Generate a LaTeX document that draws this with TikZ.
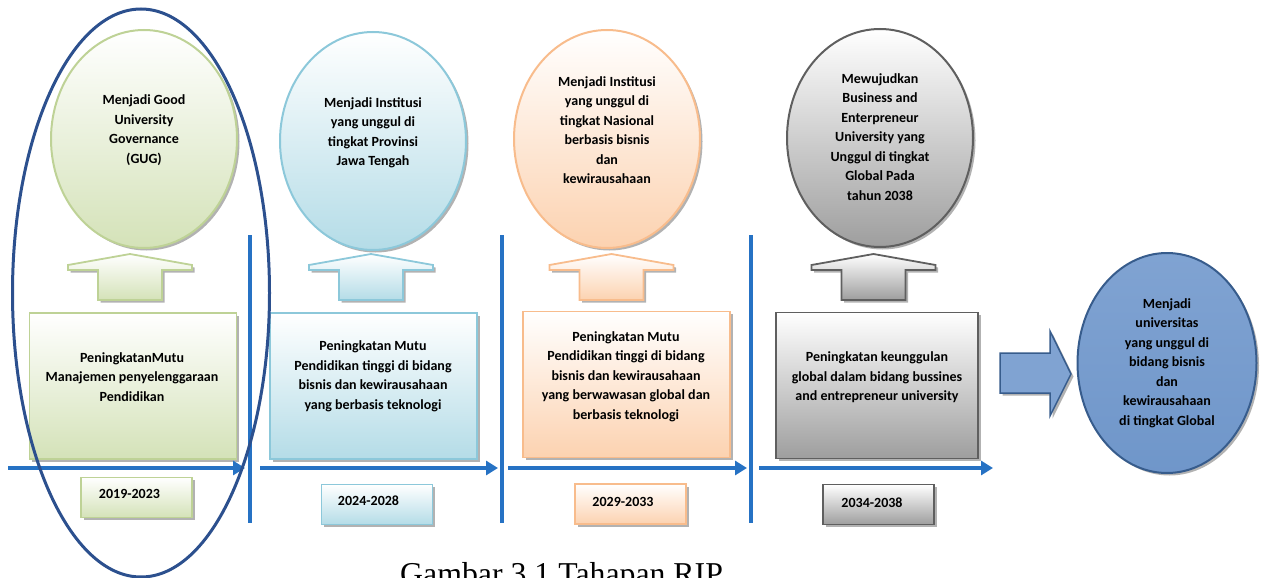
\documentclass[tikz,border=0pt]{standalone}
\usepackage{fontspec}
\setmainfont{Carlito}
\newfontfamily\capfont{Liberation Serif}
\usetikzlibrary{arrows.meta,shadows,shapes.geometric}

\definecolor{grD}{RGB}{190,210,150}
\definecolor{grF}{RGB}{212,226,184}
\definecolor{blD}{RGB}{140,200,218}
\definecolor{blF}{RGB}{180,220,231}
\definecolor{orD}{RGB}{248,188,140}
\definecolor{orF}{RGB}{252,210,176}
\definecolor{gyD}{RGB}{95,95,95}
\definecolor{gyF}{RGB}{158,158,158}
\definecolor{tlblue}{RGB}{38,114,196}
\definecolor{navy}{RGB}{44,80,142}
\definecolor{fnD}{RGB}{55,92,140}
\definecolor{fnL}{RGB}{128,163,210}
\definecolor{fnM}{RGB}{72,120,182}

\tikzset{
  soft/.style={drop shadow={shadow xshift=2.5pt,shadow yshift=-2.5pt,opacity=.3,fill=black}},
  txt/.style={font=\bfseries\fontsize{14}{19.5}\selectfont,align=center,inner sep=0pt},
  goal/.style={ellipse,draw=#1D,line width=2pt,top color=white,bottom color=#1F,
    minimum width=186pt,minimum height=218pt,soft},
  stage/.style={rectangle,draw=#1D,line width=1.8pt,top color=white,bottom color=#1F,
    minimum width=207pt,minimum height=146pt,soft},
  yearbox/.style={rectangle,draw=#1D,line width=1.8pt,top color=white,bottom color=#1F,
    minimum width=111pt,minimum height=40pt,soft},
  uparrow/.style={draw=#1D,line width=1.8pt,top color=white,bottom color=#1F,line join=miter,soft},
  timeline/.style={line width=4.5pt,draw=tlblue,-{Triangle[length=12pt,width=14pt]}},
  sep/.style={line width=3.5pt,draw=tlblue}
}

\begin{document}
\begin{tikzpicture}[x=1pt,y=-1pt]
\useasboundingbox (0,0) rectangle (1272,578);

  \node[goal=gr] (g1) at (144,139) {};
  \node[goal=bl] (g2) at (373,141) {};
  \node[goal=or] (g3) at (607,139) {};
  \node[goal=gy] (g4) at (880,138) {};

  \node[txt] (g1t) at (144,130) {Menjadi Good\\University\\Governance\\(GUG)};
  \node[txt] (g2t) at (373,133) {Menjadi Institusi\\yang unggul di\\tingkat Provinsi\\Jawa Tengah};
  \node[txt] (g3t) at (607,130) {Menjadi Institusi\\yang unggul di\\tingkat Nasional\\berbasis bisnis\\dan\\kewirausahaan};
  \node[txt] (g4t) at (880,137) {Mewujudkan\\Business and\\Enterpreneur\\University yang\\Unggul di tingkat\\Global Pada\\tahun 2038};

  \foreach \cx/\clr in {130/gr, 371/bl, 611.5/or, 873.5/gy}
    \draw[uparrow=\clr] ({\cx-32},300) -- ({\cx-32},270) -- ({\cx-62},270) -- ({\cx-62},265)
      -- (\cx,254) -- ({\cx+62},265) -- ({\cx+62},270) -- ({\cx+32},270) -- ({\cx+32},300) -- cycle;

  \node[stage=gr] (b1) at (133,386) {};
  \node[stage=bl] (b2) at (373.5,386) {};
  \node[stage=or] (b3) at (626.5,384.5) {};
  \node[stage=gy,minimum width=202pt] (b4) at (877,385.5) {};

  \node[txt] (b1t) at (132,377) {PeningkatanMutu\\Manajemen penyelenggaraan\\Pendidikan};
  \node[txt] (b2t) at (373,376.5) {Peningkatan Mutu\\Pendidikan tinggi di bidang\\bisnis dan kewirausahaan\\yang berbasis teknologi};
  \node[txt] (b3t) at (626,376.5) {Peningkatan Mutu\\Pendidikan tinggi di bidang\\bisnis dan kewirausahaan\\yang berwawasan global dan\\berbasis teknologi};
  \node[txt] (b4t) at (877,377.5) {Peningkatan keunggulan\\global dalam bidang bussines\\and entrepreneur university};

  \coordinate (s1) at (8,468);   \coordinate (e1) at (245,468);
  \coordinate (s2) at (260,468); \coordinate (e2) at (498,468);
  \coordinate (s3) at (508,468); \coordinate (e3) at (747,468);
  \coordinate (s4) at (759,468); \coordinate (e4) at (993,468);

  \foreach \from/\to in {s1/e1, s2/e2, s3/e3, s4/e4}
\draw[timeline] (\from) -- (\to);

  \foreach \x in {250,502,751}
\draw[sep] (\x,235) -- (\x,523);

  \node[yearbox=gr] (y1) at (136.5,497.5) {};
  \node[yearbox=bl] (y2) at (377,504.5) {};
  \node[yearbox=or] (y3) at (630.5,504) {};
  \node[yearbox=gy] (y4) at (878.5,504.5) {};

  \node[txt] (y1t) at (129.5,494) {2019-2023};
  \node[txt] (y2t) at (368.5,501) {2024-2028};
  \node[txt] (y3t) at (623,502) {2029-2033};
  \node[txt] (y4t) at (872,503) {2034-2038};

  % arrow towards the final goal
  \draw[draw=fnD,line width=1.5pt,top color=fnL,middle color=fnM,bottom color=fnL,soft]
    (1000,353) -- (1050,353) -- (1050,331) -- (1071,374) -- (1050,416) -- (1050,393) -- (1000,393) -- cycle;

  \node[ellipse,draw=fnD,line width=2pt,top color=fnL,middle color=fnM,bottom color=fnL!70!fnM,
    minimum width=179pt,minimum height=220pt,soft] (fin) at (1167,363) {};
  \node[txt] (fint) at (1167,363) {Menjadi\\universitas\\yang unggul di\\bidang bisnis\\dan\\kewirausahaan\\di tingkat Global};

  \node[ellipse,draw=navy,line width=3pt,minimum width=257pt,minimum height=568pt] (focus) at (141,293) {};

  \node[anchor=base west,inner sep=0pt,font=\capfont\fontsize{31.8}{36}\selectfont] (cap) at (400,584) {Gambar 3.1 Tahapan RIP};

\end{tikzpicture}
\end{document}
